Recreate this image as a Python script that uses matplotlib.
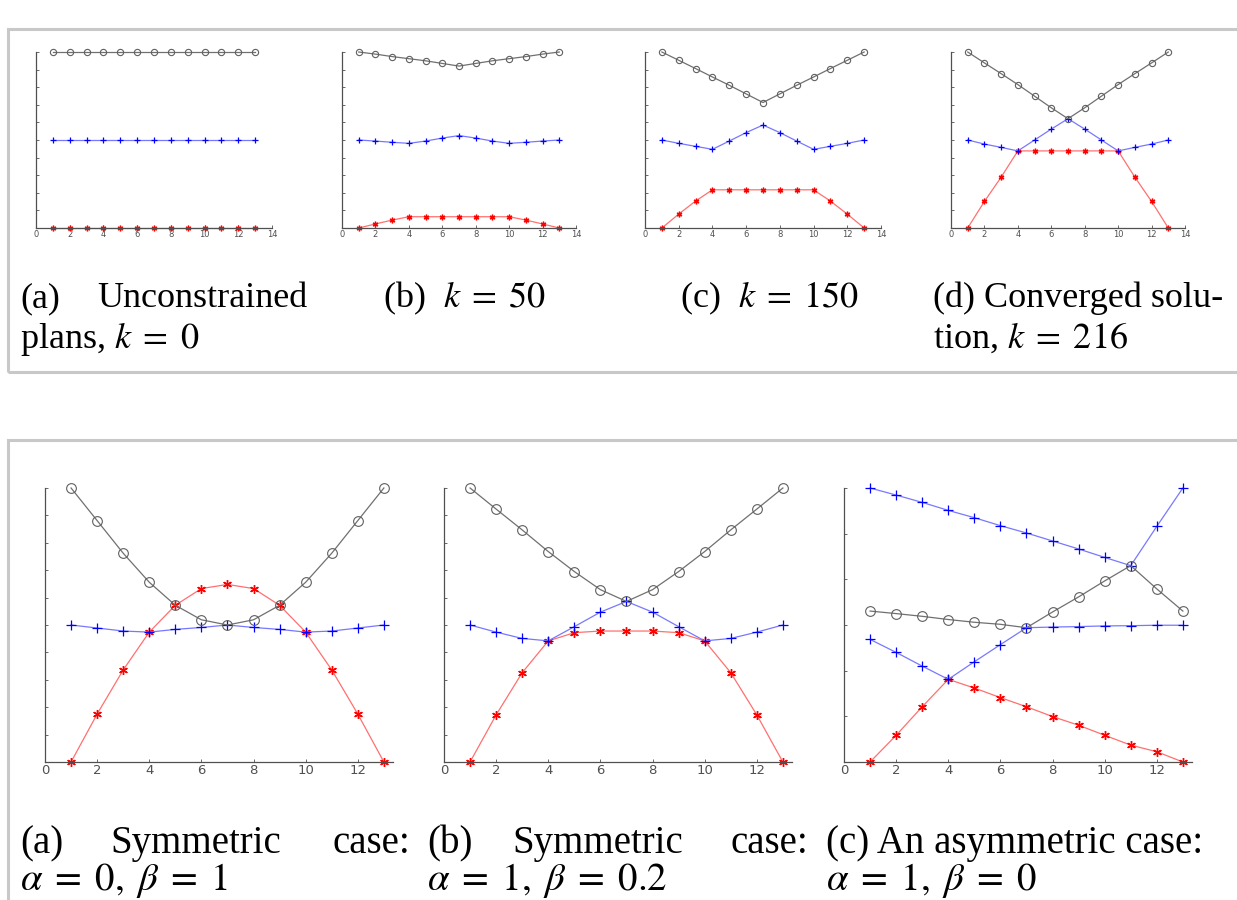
import matplotlib.pyplot as plt
from matplotlib.patches import Rectangle

plt.rcParams['mathtext.fontset'] = 'stix'

W, H = 1237, 900

# data (x = 1..13)
x = list(range(1, 14))

# top row: k = 0, 50, 150, 216
gray_k0 = [1.0] * 13
blue_k0 = [0.5] * 13
red_k0 = [0.0] * 13

gray_k50 = [1.0, 0.988, 0.974, 0.962, 0.950, 0.935, 0.920, 0.935, 0.950, 0.962, 0.974, 0.988, 1.0]
blue_k50 = [0.5, 0.494, 0.487, 0.481, 0.494, 0.511, 0.525, 0.511, 0.494, 0.481, 0.487, 0.494, 0.5]
red_k50 = [0.0, 0.023, 0.045, 0.064, 0.064, 0.064, 0.064, 0.064, 0.064, 0.064, 0.045, 0.023, 0.0]

gray_k150 = [1.0, 0.953, 0.906, 0.858, 0.811, 0.762, 0.713, 0.762, 0.811, 0.858, 0.906, 0.953, 1.0]
blue_k150 = [0.5, 0.481, 0.464, 0.447, 0.494, 0.542, 0.585, 0.542, 0.494, 0.447, 0.464, 0.481, 0.5]
red_k150 = [0.0, 0.079, 0.153, 0.217, 0.217, 0.217, 0.217, 0.217, 0.217, 0.217, 0.153, 0.079, 0.0]

gray_k216 = [1.0, 0.938, 0.877, 0.815, 0.749, 0.683, 0.621, 0.683, 0.749, 0.815, 0.877, 0.938, 1.0]
blue_k216 = [0.5, 0.477, 0.458, 0.438, 0.5, 0.562, 0.621, 0.562, 0.5, 0.438, 0.458, 0.477, 0.5]
red_k216 = [0.0, 0.151, 0.289, 0.438, 0.438, 0.438, 0.438, 0.438, 0.438, 0.438, 0.289, 0.151, 0.0]

# bottom row
gray_sym1 = [1.0, 0.881, 0.762, 0.656, 0.572, 0.519, 0.5, 0.519, 0.572, 0.656, 0.762, 0.881, 1.0]
blue_sym1 = [0.5, 0.489, 0.478, 0.474, 0.484, 0.491, 0.5, 0.491, 0.484, 0.474, 0.478, 0.489, 0.5]
red_sym1 = [0.0, 0.175, 0.336, 0.474, 0.572, 0.633, 0.648, 0.633, 0.572, 0.474, 0.336, 0.175, 0.0]

gray_sym2 = [1.0, 0.923, 0.847, 0.768, 0.695, 0.629, 0.586, 0.629, 0.695, 0.768, 0.847, 0.923, 1.0]
blue_sym2 = [0.5, 0.474, 0.451, 0.442, 0.494, 0.547, 0.586, 0.547, 0.494, 0.442, 0.451, 0.474, 0.5]
red_sym2 = [0.0, 0.172, 0.326, 0.442, 0.472, 0.478, 0.478, 0.478, 0.472, 0.442, 0.326, 0.172, 0.0]

blue_asym_a = [1.2, 1.169, 1.137, 1.102, 1.070, 1.035, 1.003, 0.968, 0.933, 0.896, 0.860, 1.032, 1.2]
gray_asym = [0.661, 0.650, 0.638, 0.624, 0.612, 0.603, 0.588, 0.657, 0.723, 0.793, 0.860, 0.758, 0.661]
blue_asym_b = [0.537, 0.480, 0.420, 0.362, 0.439, 0.514, 0.588, 0.591, 0.593, 0.596, 0.597, 0.599, 0.599]
red_asym = [0.0, 0.117, 0.242, 0.362, 0.324, 0.282, 0.242, 0.199, 0.161, 0.117, 0.074, 0.045, 0.0]


def px_axes(x0, x1, ytop, ybot):
    return fig.add_axes([x0 / W, 1 - ybot / H, (x1 - x0) / W, (ybot - ytop) / H])


def style(ax, xmax, xticks, ymax, nyt, lsize):
    ax.set_xlim(0, xmax)
    ax.set_ylim(0, ymax)
    for s in ['top', 'right']:
        ax.spines[s].set_visible(False)
    for s in ['left', 'bottom']:
        ax.spines[s].set_color('#505050')
        ax.spines[s].set_linewidth(0.9)
    ax.set_xticks(xticks)
    ax.set_yticks([ymax * i / nyt for i in range(nyt + 1)])
    ax.set_yticklabels([])
    ax.tick_params(direction='in', length=2.5, width=0.6, colors='#505050',
                   labelsize=lsize, pad=1.5)
    ax.patch.set_alpha(0)


def draw(ax, g, blues, r, ms):
    ax.plot(x, r, color='#ff7070', lw=0.9, marker=(6, 2, 0), ms=ms * 0.9,
            mec='red', mew=1.0, clip_on=False)
    for b in blues:
        ax.plot(x, b, color='#7878ff', lw=0.9, marker='+', ms=ms * 1.1,
                mec='blue', mew=0.9, clip_on=False)
    ax.plot(x, g, color='#707070', lw=0.9, marker='o', ms=ms, mfc='none',
            mec='#606060', mew=0.8, clip_on=False)


fig = plt.figure(figsize=(W / 100, H / 100), dpi=100)

# frames
fig.add_artist(Rectangle((8 / W, 1 - 372 / H), 1.2, (372 - 29) / H, transform=fig.transFigure,
                         fill=False, ec='#c8c8c8', lw=2.2))
fig.add_artist(Rectangle((8 / W, -0.2), 1.2, 0.2 + 1 - 440 / H, transform=fig.transFigure,
                         fill=False, ec='#c8c8c8', lw=2.2))

top_sets = [(36, 272, gray_k0, [blue_k0], red_k0),
            (342, 576, gray_k50, [blue_k50], red_k50),
            (645, 881, gray_k150, [blue_k150], red_k150),
            (951, 1185, gray_k216, [blue_k216], red_k216)]
for x0, x1, g, b, r in top_sets:
    ax = px_axes(x0, x1, 52, 228)
    style(ax, 14, range(0, 15, 2), 1.0, 10, 6)
    draw(ax, g, b, r, 4.5)

bot_sets = [(45, 393, gray_sym1, [blue_sym1], red_sym1, 1.0, 10),
            (444, 792, gray_sym2, [blue_sym2], red_sym2, 1.0, 10),
            (844, 1192, gray_asym, [blue_asym_a, blue_asym_b], red_asym, 1.2, 6)]
for x0, x1, g, b, r, ymax, nyt in bot_sets:
    ax = px_axes(x0, x1, 488, 762)
    style(ax, 13.35, range(0, 13, 2), ymax, nyt, 9.5)
    draw(ax, g, b, r, 7)


# captions
def t(xp, yp, s, ha='left', size=28):
    fig.text(xp / W, 1 - yp / H, s, ha=ha, family='Liberation Serif',
             fontsize=size, color='black', va='baseline')


t(20, 307, '(a)', size=26)
t(307, 307, 'Unconstrained', ha='right', size=26)
t(20, 348, 'plans, $k\\;=\\;0$', size=26)
t(383, 307, '(b)  $k\\;=\\;50$', size=26)
t(680, 307, '(c)  $k\\;=\\;150$', size=26)
t(933, 307, '(d) Converged solu-', size=26)
t(933, 348, 'tion, $k\\;=\\;216$', size=26)

t(20, 853, '(a)')
t(110, 853, 'Symmetric')
t(410, 853, 'case:', ha='right')
t(20, 890, '$\\alpha\\;=\\;0,\\;\\beta\\;=\\;1$')
t(427, 853, '(b)')
t(512, 853, 'Symmetric')
t(808, 853, 'case:', ha='right')
t(427, 890, '$\\alpha\\;=\\;1,\\;\\beta\\;=\\;0.2$')
t(826, 853, '(c) An asymmetric case:')
t(826, 890, '$\\alpha\\;=\\;1,\\;\\beta\\;=\\;0$')

fig.savefig('out.png', dpi=100)
